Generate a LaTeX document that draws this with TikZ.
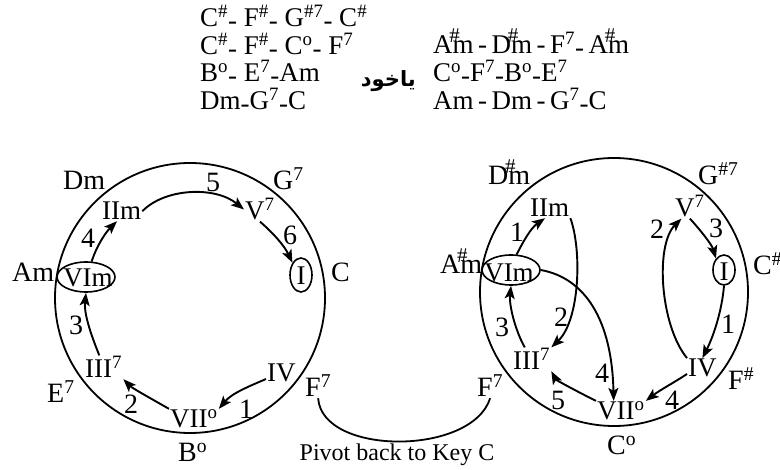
\documentclass[tikz,border=0pt]{standalone}
\usepackage{fontspec}
\setmainfont{Liberation Serif}
\newfontfamily\arabicfont[Script=Arabic]{DejaVu Sans}
\TeXXeTstate=1
\usetikzlibrary{shapes.geometric,arrows.meta}
\newcommand{\shp}{\textsuperscript{\#}}
\newcommand{\dgr}{\textsuperscript{o}}
\newcommand{\svn}{\textsuperscript{7}}
\newcommand{\ldash}{\raisebox{-0.22ex}{-}}
\newcommand{\shm}{\makebox[0pt][l]{\kern-0.12em\raisebox{0.42em}{\fontsize{21}{21}\selectfont\#}}m}
\tikzset{
  ring/.style={draw, circle, inner sep=0pt, line width=1.8pt},
  oval/.style={draw, ellipse, inner sep=0pt, line width=1.6pt},
  lab/.style={font=\fontsize{28}{30}\selectfont, inner sep=1pt, anchor=base west},
  inlab/.style={font=\fontsize{27}{30}\selectfont, inner sep=1pt, anchor=base west},
  num/.style={font=\fontsize{28}{30}\selectfont, inner sep=0pt},
  toptxt/.style={font=\fontsize{27}{30}\selectfont, inner sep=0pt, anchor=base west},
  arr/.style={line width=1.9pt, -{Stealth[length=13pt,width=10pt,inset=3pt]}}
}
\begin{document}
\begin{tikzpicture}[x=1pt,y=-1pt]
\useasboundingbox[fill=white] (0,0) rectangle (780,470);
% top text
\node[toptxt] (t1) at (200,27) {C\shp\ldash\ F\shp\ldash\ G\textsuperscript{\#7}\ldash\ C\shp};
\node[toptxt] (t2) at (200,55) {C\shp\ldash\ F\shp\ldash\ C\dgr\ldash\ F\svn};
\node[toptxt] (t3) at (200,82) {B\dgr\ldash\ E\svn\ldash Am};
\node[toptxt] (t4) at (200,110) {Dm\ldash G\svn\ldash C};
\node[toptxt] (u1) at (433,54) {A\shm\,-\,D\shm\,-\,F\svn\ldash\,A\shm};
\node[toptxt] (u2) at (433,82) {C\dgr\ldash F\svn\ldash B\dgr\ldash E\svn};
\node[toptxt] (u3) at (433,110) {Am\,-\,Dm\,-\,G\svn\ldash C};
\node[font={\arabicfont\bfseries\fontsize{21}{24}\selectfont}, anchor=base east, inner sep=0pt] (ar) at (416,87) {\beginR ياخود\endR};
% circles
\node[ring, minimum size=270pt] (LC) at (190,298) {};
\node[ring, minimum size=268pt] (RC) at (614,292) {};
% ovals
\node[oval, minimum width=58pt, minimum height=30pt] (L6e) at (86,277) {};
\node[oval, minimum width=22pt, minimum height=34pt] (L1e) at (301,275) {};
\node[oval, minimum width=58pt, minimum height=30pt] (R6e) at (511,270) {};
\node[oval, minimum width=22pt, minimum height=30pt] (R1e) at (724,270) {};
% left inner labels
\node[inlab, anchor=base] (L6) at (88,287) {VIm};
\node[inlab, anchor=base] (L1) at (301,285) {I};
\node[inlab] (L2) at (101,220) {IIm};
\node[inlab] (L5) at (244,220) {V\svn};
\node[inlab] (L3) at (84,378) {III\svn};
\node[inlab] (L4) at (266,382) {IV};
\node[inlab] (L7) at (169,428) {VII\dgr};
% right inner labels
\node[inlab, anchor=base] (R6) at (509,282) {VIm};
\node[inlab, anchor=base] (R1) at (724,281) {I};
\node[inlab] (R2) at (529,217) {IIm};
\node[inlab] (R5) at (674,217) {V\svn};
\node[inlab] (R3) at (512,370) {III\svn};
\node[inlab] (R4) at (687,377) {IV};
\node[inlab] (R7) at (596,420) {VII\dgr};
% left outer labels
\node[lab] (Dm) at (62,190) {Dm};
\node[lab] (G7) at (272,190) {G\svn};
\node[lab] (Am) at (11,282) {Am};
\node[lab] (Cl) at (330,282) {C};
\node[lab] (E7) at (46,403) {E\svn};
\node[lab] (Bo) at (177,462) {B\dgr};
\node[lab] (F7l) at (304,397) {F\svn};
% right outer labels
\node[lab] (Dsm) at (487,185) {D\shm};
\node[lab] (Gs7) at (697,185) {G\textsuperscript{\#7}};
\node[lab] (Asm) at (439,274) {A\shm};
\node[lab] (Cs) at (752,275) {C\shp};
\node[lab] (Fs) at (727,390) {F\shp};
\node[lab] (Co) at (606,455) {C\dgr};
\node[lab] (F7r) at (476,397) {F\svn};
% numbers left
\node[num] (nl5) at (213,182) {5};
\node[num] (nl4) at (88,238) {4};
\node[num] (nl6) at (290,235) {6};
\node[num] (nl3) at (76,325) {3};
\node[num] (nl2) at (131,404) {2};
\node[num] (nl1) at (246,409) {1};
% numbers right
\node[num] (nr1a) at (517,232) {1};
\node[num] (nr2a) at (657,229) {2};
\node[num] (nr3a) at (716,228) {3};
\node[num] (nr3b) at (502,327) {3};
\node[num] (nr2b) at (561,317) {2};
\node[num] (nr1b) at (728,324) {1};
\node[num] (nr4a) at (602,373) {4};
\node[num] (nr5) at (558,400) {5};
\node[num] (nr4b) at (672,400) {4};
% left arrows
\draw[arr] (L2.east) .. controls (165,188) and (215,186) .. (L5.west);
\draw[arr] (L5.south) .. controls (272,232) and (284,245) .. (L1e.125);
\draw[arr] (L6e.70) .. controls (97,245) and (106,232) .. (L2.-115);
\draw[arr] (L3.110) .. controls (89,330) and (84,312) .. (L6e.south);
\draw[arr] (L4.-160) .. controls (250,386) and (232,393) .. (L7.north east);
\draw[arr] (L7.north west) .. controls (150,398) and (132,388) .. (L3.south east);
% right arrows
\draw[arr] (R6e.70) .. controls (524,240) and (531,228) .. (R2.-115);
\draw[arr] (R2.south east) .. controls (582,250) and (580,320) .. (R3.north east);
\draw[arr] (R6e.east) .. controls (585,278) and (612,320) .. (R7.125);
\draw[arr] (R3.120) .. controls (515,330) and (509,305) .. (R6e.south);
\draw[arr] (R4.north west) .. controls (660,325) and (655,245) .. (R5.-125);
\draw[arr] (R5.south) .. controls (702,232) and (712,245) .. (R1e.125);
\draw[arr] (R1e.south) .. controls (722,310) and (714,335) .. (R4.north);
\draw[arr] (R4.-160) .. controls (675,382) and (660,390) .. (R7.north east);
\draw[arr] (R7.north west) .. controls (578,392) and (556,380) .. (R3.south east);
% pivot
\draw[line width=1.8pt] (F7l.south) .. controls (322,456) and (472,456) .. (F7r.south);
\node[font=\fontsize{24}{26}\selectfont, anchor=base, inner sep=0pt] (piv) at (397,461) {Pivot back to Key C};
\end{tikzpicture}
\end{document}
